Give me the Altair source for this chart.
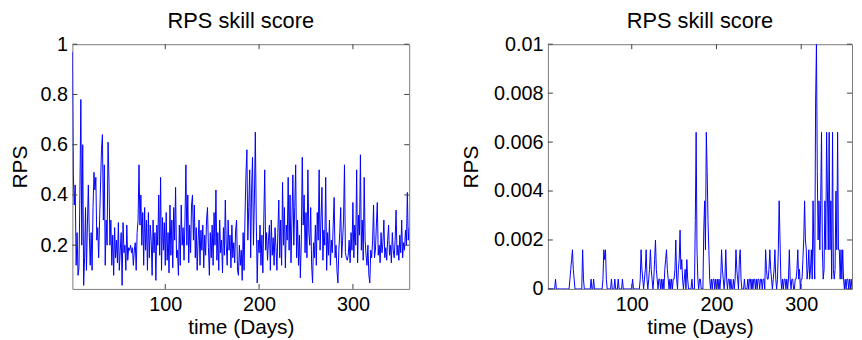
import altair as alt
import pandas as pd

# ---------------- data ----------------
days = list(range(1, 361))

rps_left = [
    0.97, 0.48, 0.36, 0.44, 0.12, 0.25, 0.08, 0.11, 0.40, 0.78, 0.20, 0.60, 0.04, 0.15, 0.35, 0.10, 0.28, 0.44, 0.25, 0.12,
    0.25, 0.10, 0.35, 0.49, 0.42, 0.47, 0.22, 0.27, 0.15, 0.30, 0.44, 0.58, 0.64, 0.30, 0.52, 0.12, 0.30, 0.20, 0.61, 0.46,
    0.20, 0.30, 0.12, 0.24, 0.08, 0.27, 0.15, 0.22, 0.13, 0.29, 0.10, 0.18, 0.25, 0.04, 0.29, 0.17, 0.20, 0.10, 0.28, 0.14,
    0.19, 0.18, 0.20, 0.17, 0.19, 0.12, 0.18, 0.21, 0.10, 0.25, 0.30, 0.52, 0.28, 0.40, 0.20, 0.33, 0.12, 0.35, 0.18, 0.30,
    0.10, 0.33, 0.15, 0.28, 0.22, 0.08, 0.30, 0.17, 0.25, 0.06, 0.28, 0.20, 0.40, 0.16, 0.47, 0.10, 0.31, 0.18, 0.29, 0.12,
    0.33, 0.14, 0.25, 0.09, 0.36, 0.16, 0.30, 0.11, 0.35, 0.22, 0.43, 0.15, 0.18, 0.08, 0.28, 0.12, 0.36, 0.20, 0.27, 0.14,
    0.30, 0.52, 0.20, 0.40, 0.13, 0.28, 0.17, 0.36, 0.40, 0.22, 0.36, 0.15, 0.27, 0.10, 0.22, 0.30, 0.12, 0.26, 0.18, 0.28,
    0.11, 0.24, 0.16, 0.30, 0.35, 0.19, 0.08, 0.25, 0.15, 0.28, 0.12, 0.33, 0.20, 0.42, 0.14, 0.25, 0.10, 0.30, 0.17, 0.22,
    0.09, 0.27, 0.16, 0.38, 0.20, 0.12, 0.30, 0.18, 0.24, 0.11, 0.28, 0.15, 0.21, 0.13, 0.26, 0.30, 0.10, 0.08, 0.20, 0.12,
    0.18, 0.06, 0.25, 0.10, 0.32, 0.48, 0.58, 0.22, 0.35, 0.50, 0.15, 0.42, 0.55, 0.20, 0.38, 0.65, 0.30, 0.05, 0.22, 0.17,
    0.28, 0.12, 0.24, 0.09, 0.30, 0.50, 0.18, 0.25, 0.14, 0.22, 0.28, 0.10, 0.30, 0.16, 0.23, 0.12, 0.27, 0.19, 0.10, 0.25,
    0.38, 0.15, 0.30, 0.12, 0.45, 0.20, 0.35, 0.11, 0.28, 0.22, 0.47, 0.18, 0.40, 0.13, 0.30, 0.48, 0.20, 0.35, 0.52, 0.15,
    0.30, 0.12, 0.24, 0.07, 0.22, 0.55, 0.28, 0.40, 0.17, 0.33, 0.15, 0.50, 0.25, 0.20, 0.35, 0.12, 0.05, 0.21, 0.15, 0.28,
    0.12, 0.33, 0.22, 0.50, 0.18, 0.30, 0.43, 0.14, 0.26, 0.20, 0.47, 0.10, 0.25, 0.16, 0.30, 0.12, 0.22, 0.17, 0.28, 0.39,
    0.15, 0.20, 0.10, 0.05, 0.18, 0.25, 0.35, 0.15, 0.22, 0.30, 0.52, 0.17, 0.15, 0.14, 0.16, 0.22, 0.13, 0.25, 0.18, 0.37,
    0.15, 0.28, 0.20, 0.50, 0.13, 0.32, 0.24, 0.56, 0.18, 0.30, 0.14, 0.47, 0.22, 0.16, 0.12, 0.20, 0.08, 0.05, 0.18, 0.15,
    0.22, 0.36, 0.15, 0.18, 0.28, 0.37, 0.16, 0.20, 0.13, 0.25, 0.17, 0.21, 0.30, 0.15, 0.19, 0.14, 0.22, 0.28, 0.16, 0.20,
    0.13, 0.25, 0.18, 0.15, 0.22, 0.34, 0.16, 0.20, 0.14, 0.24, 0.17, 0.30, 0.15, 0.21, 0.18, 0.26, 0.20, 0.41, 0.22, 0.27,
]

# right panel values, in units of 1e-4
rps_right_e4 = [
    0, 0, 0, 0, 0, 0, 0, 0, 0, 4, 0, 0, 0, 0, 0, 0, 0, 0, 0, 0,
    0, 0, 0, 0, 0, 0, 4, 8, 12, 16, 8, 4, 0, 0, 0, 0, 0, 0, 0, 0,
    0, 16, 4, 0, 0, 0, 0, 0, 0, 0, 0, 4, 0, 0, 4, 0, 0, 0, 0, 0,
    0, 0, 0, 0, 0, 4, 16, 12, 16, 4, 0, 0, 0, 0, 0, 4, 0, 0, 0, 4,
    0, 0, 0, 4, 0, 0, 0, 0, 4, 0, 0, 0, 0, 0, 0, 0, 0, 0, 0, 0,
    4, 0, 0, 0, 0, 0, 0, 0, 0, 4, 16, 8, 4, 0, 4, 8, 16, 4, 0, 4,
    8, 16, 8, 4, 0, 4, 12, 20, 8, 4, 0, 4, 4, 0, 4, 0, 4, 0, 8, 12,
    16, 8, 4, 0, 4, 0, 4, 0, 4, 4, 8, 20, 4, 0, 8, 12, 24, 8, 12, 4,
    0, 4, 8, 0, 12, 4, 0, 0, 0, 0, 4, 0, 0, 0, 28, 64, 16, 4, 0, 4,
    4, 0, 0, 0, 24, 36, 16, 64, 48, 28, 16, 4, 0, 4, 0, 4, 4, 0, 4, 0,
    4, 0, 4, 0, 4, 16, 8, 4, 0, 4, 16, 4, 0, 4, 4, 0, 4, 0, 0, 4,
    0, 4, 16, 8, 4, 0, 12, 16, 4, 0, 0, 0, 4, 0, 0, 0, 4, 0, 4, 4,
    0, 4, 0, 4, 4, 0, 4, 0, 4, 4, 0, 4, 4, 0, 4, 4, 0, 16, 8, 4,
    4, 8, 16, 8, 4, 0, 4, 8, 16, 4, 0, 4, 16, 36, 20, 4, 0, 4, 0, 4,
    4, 0, 4, 0, 4, 16, 4, 0, 4, 4, 0, 0, 4, 4, 8, 16, 4, 8, 0, 4,
    4, 12, 20, 36, 20, 16, 4, 8, 16, 4, 8, 16, 4, 36, 16, 4, 76, 100, 48, 20,
    36, 16, 36, 64, 16, 4, 8, 36, 16, 64, 40, 16, 64, 16, 36, 4, 64, 8, 4, 8,
    40, 16, 64, 16, 16, 4, 16, 4, 16, 4, 0, 4, 0, 4, 4, 0, 4, 0, 4, 0,
]
rps_right = [v / 10000 for v in rps_right_e4]

x_ticks = [100, 200, 300]
left_y_ticks = [0.2, 0.4, 0.6, 0.8, 1.0]
right_y_ticks = [0, 0.002, 0.004, 0.006, 0.008, 0.01]
left_y_domain = [0.026, 1.0]
right_y_domain = [0, 0.01]

# ---------------- style ----------------
FONT = "Liberation Sans"
H = 247
W_LEFT = 340
W_RIGHT = 307
TICK_COLOR = "#404040"
TICK_LEN = 5


def panel(values, ydom, yticks, width, title_pad):
    df = pd.DataFrame({"day": days, "rps": values})
    xs = alt.Scale(domain=[1, 360], nice=False, zero=False)
    ys = alt.Scale(domain=ydom, nice=False, zero=False)
    common = dict(labelFont=FONT, labelFontSize=20, labelColor="black",
                  titleFont=FONT, titleFontSize=21, titleFontWeight="normal",
                  titleColor="black", domain=False, ticks=False, grid=False)
    x_axis = alt.Axis(values=x_ticks, title="time (Days)", labelPadding=6,
                      titlePadding=2, format="d", **common)
    y_axis = alt.Axis(values=yticks, title="RPS", format="~g", labelPadding=5,
                      titlePadding=title_pad, **common)

    line = alt.Chart(df).mark_line(color="#0000ff", strokeWidth=1, clip=True).encode(
        x=alt.X("day:Q", scale=xs, axis=x_axis),
        y=alt.Y("rps:Q", scale=ys, axis=y_axis),
    )
    xt = pd.DataFrame({"t": x_ticks})
    yt = pd.DataFrame({"t": yticks})
    top = alt.Chart(xt).mark_rule(color=TICK_COLOR, strokeWidth=1).encode(
        x=alt.X("t:Q", scale=xs, axis=x_axis), y=alt.value(0), y2=alt.value(TICK_LEN))
    bottom = alt.Chart(xt).mark_rule(color=TICK_COLOR, strokeWidth=1).encode(
        x=alt.X("t:Q", scale=xs, axis=x_axis), y=alt.value(H), y2=alt.value(H - TICK_LEN))
    left = alt.Chart(yt).mark_rule(color=TICK_COLOR, strokeWidth=1).encode(
        y=alt.Y("t:Q", scale=ys, axis=y_axis), x=alt.value(0), x2=alt.value(TICK_LEN))
    right = alt.Chart(yt).mark_rule(color=TICK_COLOR, strokeWidth=1).encode(
        y=alt.Y("t:Q", scale=ys, axis=y_axis), x=alt.value(width), x2=alt.value(width - TICK_LEN))

    return alt.layer(line, top, bottom, left, right).properties(
        width=width, height=H,
        title=alt.TitleParams("RPS skill score", font=FONT, fontSize=22, fontWeight="normal",
                              color="black", offset=1, anchor="middle"),
    )


left_panel = panel(rps_left, left_y_domain, left_y_ticks, W_LEFT, 10)
right_panel = panel(rps_right, right_y_domain, right_y_ticks, W_RIGHT, 12)

chart = alt.hconcat(left_panel, right_panel, spacing=50).properties(
    padding={"left": 0, "top": 0, "right": 1, "bottom": 0},
    background="white",
).configure_view(
    stroke="#7a7a7a", strokeWidth=1
)

chart.save("out.html", embed_options={"renderer": "svg", "actions": False})
